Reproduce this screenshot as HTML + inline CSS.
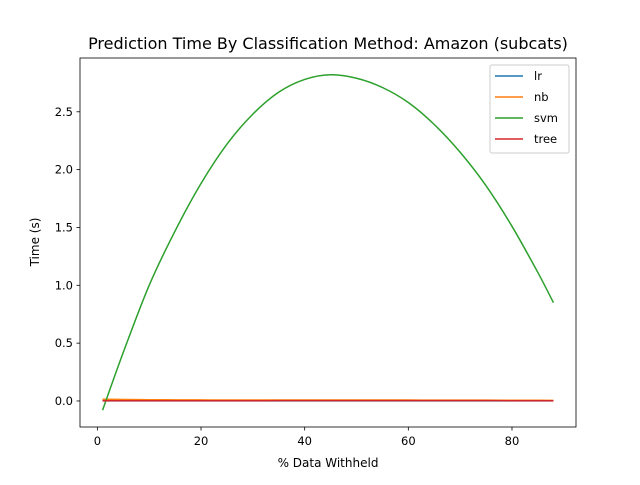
<!DOCTYPE html>
<html><head><meta charset="utf-8"><style>
body{margin:0;background:#fff;font-family:"Liberation Sans","DejaVu Sans",sans-serif}
svg text{font-family:"DejaVu Sans","Liberation Sans",sans-serif}
</style></head><body>
<svg id="c" width="640" height="480" xmlns="http://www.w3.org/2000/svg"></svg>
<script>
const xs=[1,5,10,15,20,25,30,35,40,45,50,55,60,65,70,75,80,85,88];
const svm=[-0.08,0.42,1.0,1.47,1.88,2.22,2.48,2.67,2.78,2.82,2.79,2.71,2.58,2.39,2.15,1.86,1.51,1.11,0.85];
const nb=[0.015,0.013,0.011,0.010,0.009,0.008,0.008,0.008,0.008,0.008,0.008,0.008,0.008,0.007,0.007,0.007,0.006,0.006,0.005];
const lr=[0.001,0.001,0.001,0.001,0.001,0.001,0.001,0.001,0.001,0.001,0.001,0.001,0.001,0.001,0.001,0.001,0.001,0.001,0.001];
const tree=[0.002,0.002,0.002,0.002,0.002,0.002,0.002,0.003,0.003,0.003,0.003,0.003,0.003,0.003,0.003,0.003,0.002,0.002,0.002];
const xTicks=[0,20,40,60,80];
const yTicks=[0.0,0.5,1.0,1.5,2.0,2.5];
const series=[["lr",lr,"#1f77b4"],["nb",nb,"#ff7f0e"],["svm",svm,"#2ca02c"],["tree",tree,"#d62728"]];
const L=80,R=576,T=58,B=427;
const all=[].concat(svm,nb,lr,tree);
let ymin=Math.min(...all),ymax=Math.max(...all),yr=ymax-ymin;
let xmin=Math.min(...xs),xmax=Math.max(...xs),xr=xmax-xmin;
const x0=xmin-0.05*xr,x1=xmax+0.05*xr,y0=ymin-0.05*yr,y1=ymax+0.05*yr;
const X=v=>L+(v-x0)/(x1-x0)*(R-L);
const Y=v=>B-(v-y0)/(y1-y0)*(B-T);
const svg=document.getElementById('c');
const NS="http://www.w3.org/2000/svg";
function mk(t,a,p){const e=document.createElementNS(NS,t);for(const k in a)e.setAttribute(k,a[k]);(p||svg).appendChild(e);return e;}
function smooth(P){let d='M'+P[0][0]+','+P[0][1];
for(let i=0;i<P.length-1;i++){const p0=P[Math.max(i-1,0)],p1=P[i],p2=P[i+1],p3=P[Math.min(i+2,P.length-1)];
const c1=[p1[0]+(p2[0]-p0[0])/6,p1[1]+(p2[1]-p0[1])/6],c2=[p2[0]-(p3[0]-p1[0])/6,p2[1]-(p3[1]-p1[1])/6];
d+=' C'+c1+' '+c2+' '+p2;}return d;}
let t=mk('text',{x:328,y:49,'text-anchor':'middle','font-size':16,fill:'#000'});t.textContent="Prediction Time By Classification Method: Amazon (subcats)";


xTicks.forEach(v=>{const px=X(v);
let l=mk('line',{x1:px,x2:px,y1:B,y2:B+3.5,stroke:'#000','stroke-width':0.8});


let tx=mk('text',{x:px,y:B+18,'text-anchor':'middle','font-size':11.5});tx.textContent=v;

});
yTicks.forEach(v=>{const py=Y(v);
let l=mk('line',{x1:L-3.5,x2:L,y1:py,y2:py,stroke:'#000','stroke-width':0.8});


let tx=mk('text',{x:L-7,y:py+4,'text-anchor':'end','font-size':11.5});tx.textContent=v.toFixed(1);

});
t=mk('text',{x:328,y:467,'text-anchor':'middle','font-size':12});t.textContent="% Data Withheld";


t=mk('text',{x:39,y:242,'text-anchor':'middle','font-size':12,transform:'rotate(-90 39 242)'});t.textContent="Time (s)";


series.forEach(([n,d,c])=>{
let p=mk('path',{d:smooth(xs.map((x,i)=>[X(x),Y(d[i])])),fill:'none',stroke:c,'stroke-width':1.5});

});
let f=mk('rect',{x:L,y:T,width:R-L,height:B-T,fill:'none',stroke:'#000','stroke-width':0.8});


let lg=mk('g',{});


mk('rect',{x:490,y:65,width:79,height:88,rx:2,fill:'#fff','fill-opacity':0.8,stroke:'#ccc'},lg);
series.forEach(([n,d,c],i)=>{const y=76+i*21;
let g=mk('g',{},lg);


mk('line',{x1:495,x2:523,y1:y,y2:y,stroke:c,'stroke-width':1.5},g);
let tx=mk('text',{x:534,y:y+4,'font-size':11.5},g);tx.textContent=n;});
</script>
</body></html>
